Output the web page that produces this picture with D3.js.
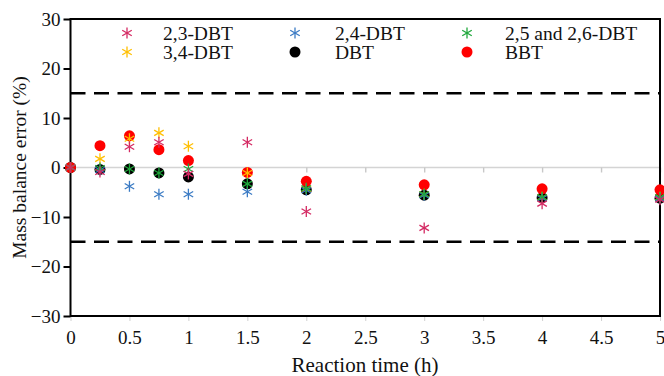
<!DOCTYPE html>
<html><head><meta charset="utf-8">
<script src="https://cdn.jsdelivr.net/npm/d3@7"></script>
<style>body{margin:0;background:#fff;} svg{display:block;}</style>
</head><body>
<svg id="c" width="664" height="376"></svg>
<script>
const times = [0, 0.25, 0.5, 0.75, 1, 1.5, 2, 3, 4, 5];
const dbt23 = [0, -0.9, 4.2, 5.1, -1.3, 5.1, -8.9, -12.2, -7.3, -6.5];
const dbt24 = [0, -0.5, -3.8, -5.4, -5.4, -4.9, -4.6, -5.6, -6.2, -6.3];
const dbt2526 = [0, -0.1, -0.3, -1.1, -0.3, -3.3, -4.2, -5.4, -6.0, -6.0];
const dbt34 = [0, 1.75, 5.8, 7.0, 4.3, -1.1, -4.3, -5.4, -6.0, -6.0];
const dbt = [0, -0.4, -0.3, -1.1, -1.9, -3.3, -4.5, -5.6, -6.1, -6.2];
const bbt = [0, 4.4, 6.4, 3.6, 1.4, -1.0, -2.8, -3.5, -4.3, -4.5];
const xTicks = [0, 0.5, 1, 1.5, 2, 2.5, 3, 3.5, 4, 4.5, 5];
const yTicks = [-30, -20, -10, 0, 10, 20, 30];
const limits = [15, -15];
const seriesNames = ["2,3-DBT", "2,4-DBT", "2,5 and 2,6-DBT", "3,4-DBT", "DBT", "BBT"];

const FONT = "'Liberation Serif', 'Times New Roman', serif";
const series = [
  {name: seriesNames[0], values: dbt23, color: "#d42a63", shape: "star"},
  {name: seriesNames[1], values: dbt24, color: "#3b7bc4", shape: "star"},
  {name: seriesNames[2], values: dbt2526, color: "#1fa83c", shape: "star"},
  {name: seriesNames[3], values: dbt34, color: "#ffbf00", shape: "star"},
  {name: seriesNames[4], values: dbt, color: "#000000", shape: "dot"},
  {name: seriesNames[5], values: bbt, color: "#ff0000", shape: "dot"}
];
const drawOrder = [4, 5, 3, 1, 2, 0];

const svg = d3.select("#c");
const L = 70.5, R = 660, T = 19, B = 316;
const x = d3.scaleLinear().domain([0, 5]).range([L, R]);
const y = d3.scaleLinear().domain([-30, 30]).range([B, T]);

// zero line (light gray) with ticks
svg.append("line").attr("x1", L).attr("x2", R).attr("y1", y(0)).attr("y2", y(0))
  .attr("stroke", "#d4d4d4").attr("stroke-width", 1.6);
const zeroAxis = svg.append("g").attr("transform", `translate(0,${y(0)})`)
  .call(d3.axisBottom(x).tickValues(xTicks).tickSize(5).tickFormat(""));
zeroAxis.select(".domain").remove();
zeroAxis.selectAll("line").attr("stroke", "#c8c8c8").attr("stroke-width", 1.4);

// bottom axis labels
const xAxis = svg.append("g").attr("transform", `translate(0,${B})`)
  .call(d3.axisBottom(x).tickValues(xTicks).tickSize(5).tickPadding(10).tickFormat(d3.format("")));
xAxis.attr("font-family", FONT).attr("font-size", 19);
xAxis.select(".domain").remove();
xAxis.selectAll("line").attr("stroke", "#d0d0d0");
xAxis.selectAll("text").attr("fill", "#111");

// left axis
const yAxis = svg.append("g").attr("transform", `translate(${L},0)`)
  .call(d3.axisLeft(y).tickValues(yTicks).tickSize(7).tickPadding(3));
yAxis.attr("font-family", FONT).attr("font-size", 19);
yAxis.select(".domain").remove();
yAxis.selectAll("line").attr("stroke", "#000").attr("stroke-width", 2);
yAxis.selectAll("text").attr("fill", "#111");

// dashed limit lines
svg.selectAll(".lim").data(limits).enter().append("line")
  .attr("x1", L).attr("x2", R).attr("y1", d => y(d)).attr("y2", d => y(d))
  .attr("stroke", "#000").attr("stroke-width", 2.6).attr("stroke-dasharray", "15,8.5");

// frame
svg.append("rect").attr("x", L).attr("y", T).attr("width", R - L).attr("height", B - T)
  .attr("fill", "none").attr("stroke", "#000").attr("stroke-width", 2);

function star(g, cx, cy, color, r) {
  [90, 30, -30].forEach(a => {
    const rad = a * Math.PI / 180;
    g.append("line").attr("x1", cx - r * Math.cos(rad)).attr("y1", cy - r * Math.sin(rad))
      .attr("x2", cx + r * Math.cos(rad)).attr("y2", cy + r * Math.sin(rad))
      .attr("stroke", color).attr("stroke-width", 1.3);
  });
}
function mark(g, s, cx, cy) {
  if (s.shape === "dot") g.append("circle").attr("cx", cx).attr("cy", cy).attr("r", 5.5).attr("fill", s.color);
  else star(g, cx, cy, s.color, 5.5);
}

const pts = svg.append("g");
drawOrder.forEach(i => {
  const s = series[i];
  s.values.forEach((v, j) => mark(pts, s, x(times[j]), y(v)));
});

// legend
const legCols = [127, 295, 467];
const legText = [163, 335, 505];
const legRows = [33, 52];
const leg = svg.append("g");
series.forEach((s, k) => {
  const col = k % 3, row = Math.floor(k / 3);
  mark(leg, s, legCols[col], legRows[row]);
  leg.append("text").attr("x", legText[col]).attr("y", legRows[row] + 6.5)
    .attr("font-family", FONT).attr("font-size", 19.5).attr("fill", "#111").text(s.name);
});

// axis titles
svg.append("text").attr("x", 365).attr("y", 372).attr("text-anchor", "middle")
  .attr("font-family", FONT).attr("font-size", 21).attr("fill", "#111").text("Reaction time (h)");
svg.append("text").attr("transform", `translate(26,${y(0)}) rotate(-90)`).attr("text-anchor", "middle")
  .attr("font-family", FONT).attr("font-size", 19.5).attr("fill", "#111").text("Mass balance error (%)");
</script>
</body></html>
